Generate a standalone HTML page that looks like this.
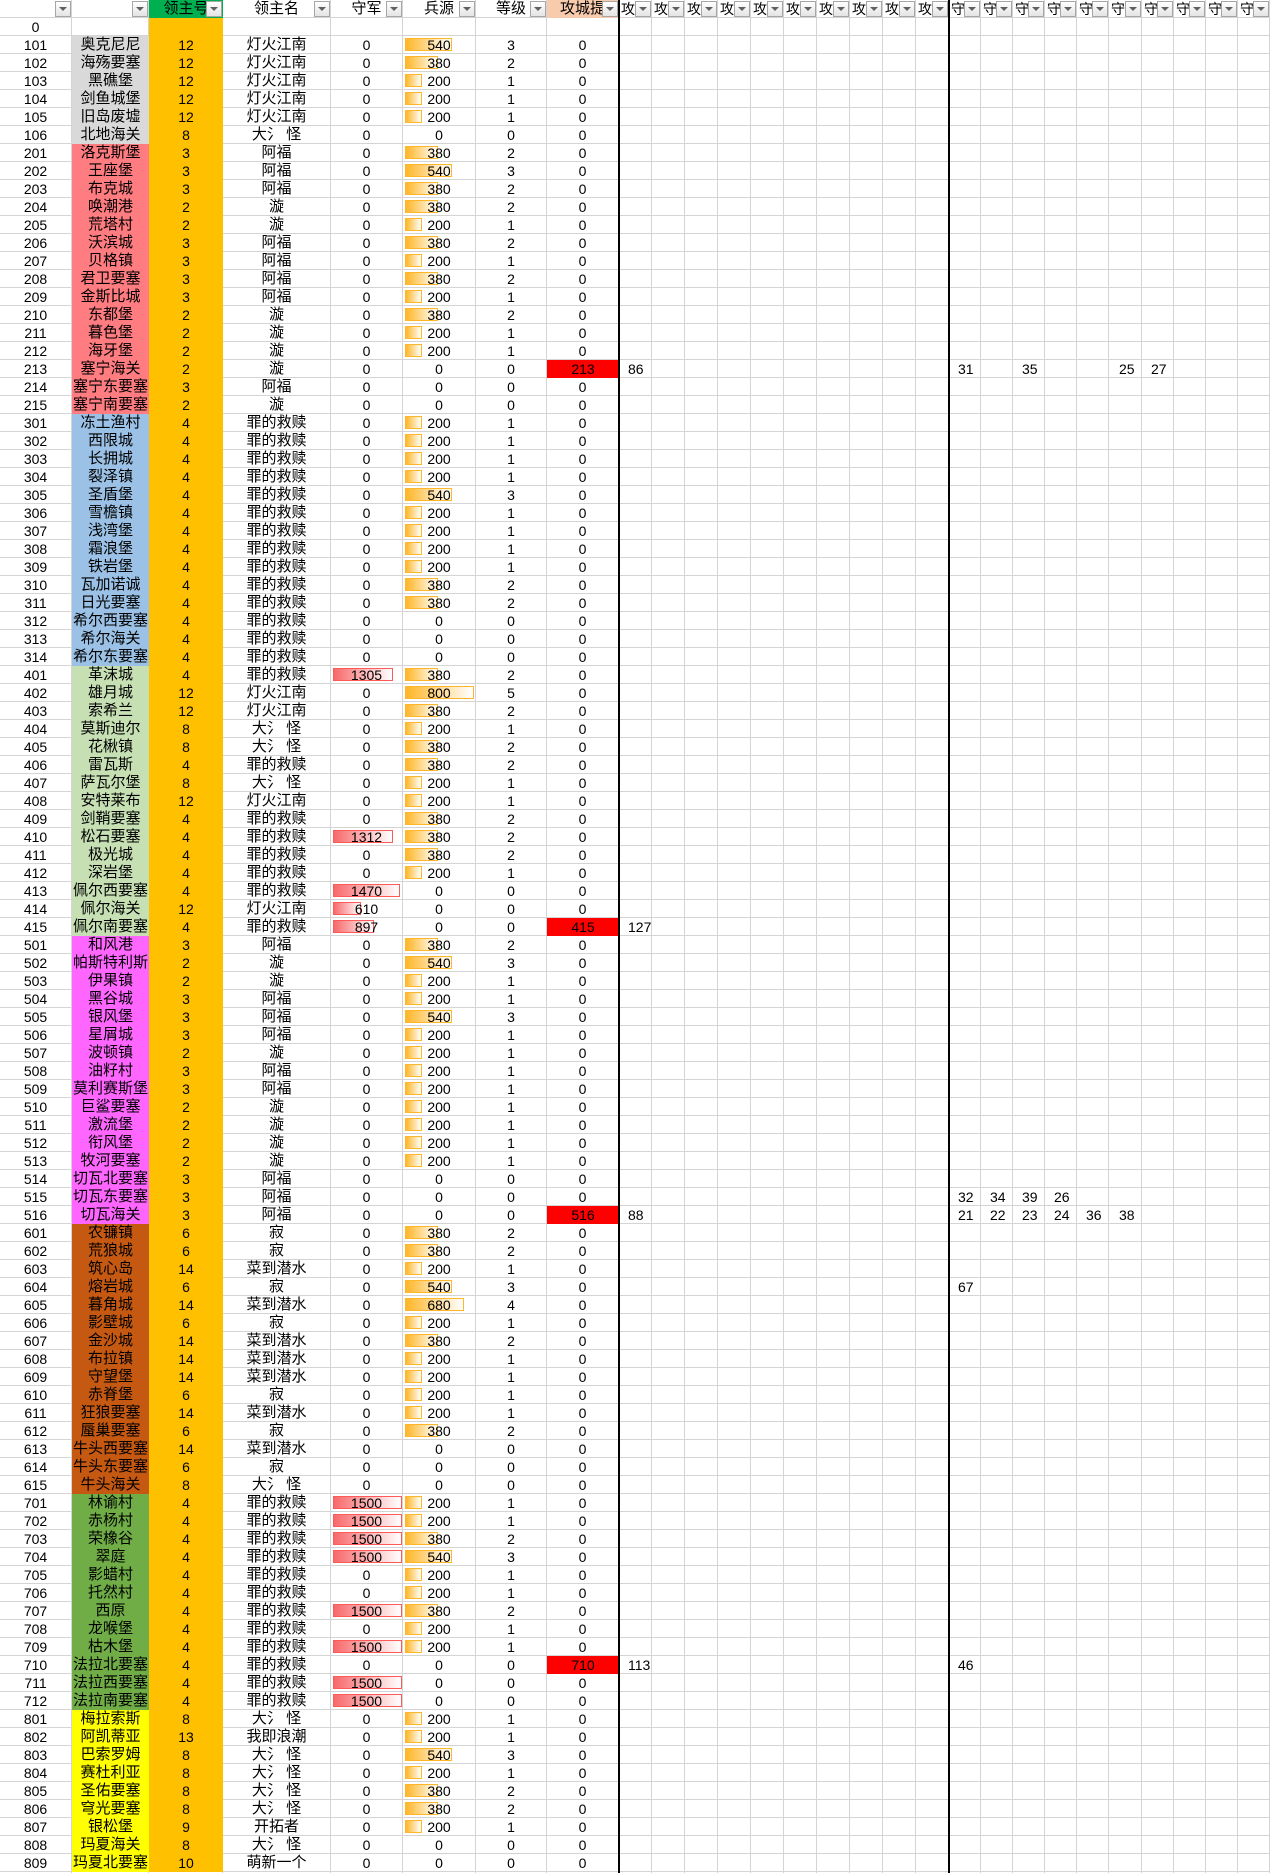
<!DOCTYPE html>
<html><head><meta charset="utf-8"><style>
body{margin:0;width:1270px;height:1873px;overflow:hidden;background:#fff;position:relative;font:14px "Liberation Sans","Noto Sans CJK SC",sans-serif;color:#000}
#g{position:absolute;left:0;top:0;width:1270px;height:1873px;background:repeating-linear-gradient(to bottom,transparent 0 17px,#d4d4d4 17px 18px)}
.v{position:absolute;top:0;height:1873px;width:1px;background:#d4d4d4}
.t{position:absolute;top:0;height:1873px;width:2px;background:#000;z-index:9}
#rows{position:absolute;left:0;top:0;width:1270px;z-index:2}
.r{position:relative;height:18px;width:1270px}
.r>span{position:absolute;top:0;height:18px;line-height:18px;text-align:center;white-space:nowrap;overflow:hidden}
.r>span:nth-child(1){left:0;width:71px}
.r>span:nth-child(2){left:72px;width:77px;font-size:15px}
.r>span:nth-child(3){left:149px;width:74px;background:#ffc000}
.r>span:nth-child(4){left:223px;width:107px;font-size:15px}
.r>span:nth-child(5){left:331px;width:71px}
.r>span:nth-child(6){left:403px;width:72px}
.r>span:nth-child(7){left:476px;width:70px}
.r>span:nth-child(8){left:547px;width:71px}
.r>span.red{background:#ff0000;width:72px}
.k1>span:nth-child(2){background:#d9d9d9}
.k2>span:nth-child(2){background:#ff7c80}
.k3>span:nth-child(2){background:#9bc2e6}
.k4>span:nth-child(2){background:#c6e0b4}
.k5>span:nth-child(2){background:#ff66ff}
.k6>span:nth-child(2){background:#c65911}
.k7>span:nth-child(2){background:#70ad47}
.k8>span:nth-child(2){background:#ffff00}
.o,.h{background:linear-gradient(90deg,var(--c),#fff) 3px 3px/calc(var(--w) - 2px) 11px no-repeat,linear-gradient(var(--b),var(--b)) 2px 2px/var(--w) 13px no-repeat}
.o{--c:#ffb628;--b:#ffb628}
.h{--c:#f8696b;--b:#ff5a5a}
.w17{--w:17px}.w33{--w:33px}.w47{--w:47px}.w59{--w:59px}.w69{--w:69px}.w60{--w:60px}.w67{--w:67px}.w28{--w:28px}.w41{--w:41px}
.r>span.x{text-align:left;width:30px}
.a1{left:628px}
.d1{left:958px}.d2{left:990px}.d3{left:1022px}.d4{left:1054px}.d5{left:1086px}.d6{left:1119px}.d7{left:1151px}
.hd>span{font-size:15px}
.hd>span.gr{background:#00b050}
.hd>span.pe{background:#f8cbad}
.hd>span.hx{text-align:left;width:33px;padding-left:1px;font-size:14px}
.fb{position:absolute;top:1px;width:14px;height:14px;border:1px solid #a6a6a6;background:linear-gradient(#fff,#e4e4e4);z-index:3}
.fb::after{content:"";position:absolute;left:3px;top:5px;border-left:4px solid transparent;border-right:4px solid transparent;border-top:4px solid #606060}
</style></head><body>
<div id="g"></div>
<div class="v" style="left:71px"></div><div class="v" style="left:148px"></div><div class="v" style="left:222px"></div><div class="v" style="left:330px"></div><div class="v" style="left:402px"></div><div class="v" style="left:475px"></div><div class="v" style="left:546px"></div>
<div class="v" style="left:651px"></div><div class="v" style="left:684px"></div><div class="v" style="left:717px"></div><div class="v" style="left:750px"></div><div class="v" style="left:783px"></div><div class="v" style="left:816px"></div><div class="v" style="left:849px"></div><div class="v" style="left:882px"></div><div class="v" style="left:915px"></div>
<div class="v" style="left:980px"></div><div class="v" style="left:1012px"></div><div class="v" style="left:1044px"></div><div class="v" style="left:1076px"></div><div class="v" style="left:1108px"></div><div class="v" style="left:1141px"></div><div class="v" style="left:1173px"></div><div class="v" style="left:1205px"></div><div class="v" style="left:1237px"></div><div class="v" style="left:1269px"></div>
<div class="t" style="left:618px"></div><div class="t" style="left:948px"></div>
<div id="rows">
<div class="r hd"><span></span><span></span><span class="gr">领主号</span><span>领主名</span><span>守军</span><span>兵源</span><span>等级</span><span class="pe">攻城提</span>
<span class="hx" style="left:620px">攻:</span><span class="hx" style="left:653px">攻:</span><span class="hx" style="left:686px">攻:</span><span class="hx" style="left:719px">攻:</span><span class="hx" style="left:752px">攻:</span><span class="hx" style="left:785px">攻:</span><span class="hx" style="left:818px">攻:</span><span class="hx" style="left:851px">攻:</span><span class="hx" style="left:884px">攻:</span><span class="hx" style="left:917px">攻城</span>
<span class="hx" style="left:950px">守:</span><span class="hx" style="left:982px">守:</span><span class="hx" style="left:1014px">守:</span><span class="hx" style="left:1046px">守:</span><span class="hx" style="left:1078px">守:</span><span class="hx" style="left:1110px">守:</span><span class="hx" style="left:1143px">守:</span><span class="hx" style="left:1175px">守:</span><span class="hx" style="left:1207px">守:</span><span class="hx" style="left:1239px">守城</span>
<i class="fb" style="left:55px"></i><i class="fb" style="left:132px"></i><i class="fb" style="left:206px"></i><i class="fb" style="left:314px"></i><i class="fb" style="left:386px"></i><i class="fb" style="left:459px"></i><i class="fb" style="left:530px"></i><i class="fb" style="left:602px"></i>
<i class="fb" style="left:635px"></i><i class="fb" style="left:668px"></i><i class="fb" style="left:701px"></i><i class="fb" style="left:734px"></i><i class="fb" style="left:767px"></i><i class="fb" style="left:800px"></i><i class="fb" style="left:833px"></i><i class="fb" style="left:866px"></i><i class="fb" style="left:899px"></i><i class="fb" style="left:932px"></i>
<i class="fb" style="left:964px"></i><i class="fb" style="left:996px"></i><i class="fb" style="left:1028px"></i><i class="fb" style="left:1060px"></i><i class="fb" style="left:1092px"></i><i class="fb" style="left:1125px"></i><i class="fb" style="left:1157px"></i><i class="fb" style="left:1189px"></i><i class="fb" style="left:1221px"></i><i class="fb" style="left:1253px"></i>
</div>
<div class="r"><span>0</span><span></span><span></span><span></span><span></span><span></span><span></span><span></span></div>
<div class="r k1"><span>101</span><span>奥克尼尼</span><span>12</span><span>灯火江南</span><span>0</span><span class="o w47">540</span><span>3</span><span>0</span></div>
<div class="r k1"><span>102</span><span>海殇要塞</span><span>12</span><span>灯火江南</span><span>0</span><span class="o w33">380</span><span>2</span><span>0</span></div>
<div class="r k1"><span>103</span><span>黑礁堡</span><span>12</span><span>灯火江南</span><span>0</span><span class="o w17">200</span><span>1</span><span>0</span></div>
<div class="r k1"><span>104</span><span>剑鱼城堡</span><span>12</span><span>灯火江南</span><span>0</span><span class="o w17">200</span><span>1</span><span>0</span></div>
<div class="r k1"><span>105</span><span>旧岛废墟</span><span>12</span><span>灯火江南</span><span>0</span><span class="o w17">200</span><span>1</span><span>0</span></div>
<div class="r k1"><span>106</span><span>北地海关</span><span>8</span><span>大氵 怪</span><span>0</span><span>0</span><span>0</span><span>0</span></div>
<div class="r k2"><span>201</span><span>洛克斯堡</span><span>3</span><span>阿福</span><span>0</span><span class="o w33">380</span><span>2</span><span>0</span></div>
<div class="r k2"><span>202</span><span>王座堡</span><span>3</span><span>阿福</span><span>0</span><span class="o w47">540</span><span>3</span><span>0</span></div>
<div class="r k2"><span>203</span><span>布克城</span><span>3</span><span>阿福</span><span>0</span><span class="o w33">380</span><span>2</span><span>0</span></div>
<div class="r k2"><span>204</span><span>唤潮港</span><span>2</span><span>漩</span><span>0</span><span class="o w33">380</span><span>2</span><span>0</span></div>
<div class="r k2"><span>205</span><span>荒塔村</span><span>2</span><span>漩</span><span>0</span><span class="o w17">200</span><span>1</span><span>0</span></div>
<div class="r k2"><span>206</span><span>沃滨城</span><span>3</span><span>阿福</span><span>0</span><span class="o w33">380</span><span>2</span><span>0</span></div>
<div class="r k2"><span>207</span><span>贝格镇</span><span>3</span><span>阿福</span><span>0</span><span class="o w17">200</span><span>1</span><span>0</span></div>
<div class="r k2"><span>208</span><span>君卫要塞</span><span>3</span><span>阿福</span><span>0</span><span class="o w33">380</span><span>2</span><span>0</span></div>
<div class="r k2"><span>209</span><span>金斯比城</span><span>3</span><span>阿福</span><span>0</span><span class="o w17">200</span><span>1</span><span>0</span></div>
<div class="r k2"><span>210</span><span>东都堡</span><span>2</span><span>漩</span><span>0</span><span class="o w33">380</span><span>2</span><span>0</span></div>
<div class="r k2"><span>211</span><span>暮色堡</span><span>2</span><span>漩</span><span>0</span><span class="o w17">200</span><span>1</span><span>0</span></div>
<div class="r k2"><span>212</span><span>海牙堡</span><span>2</span><span>漩</span><span>0</span><span class="o w17">200</span><span>1</span><span>0</span></div>
<div class="r k2"><span>213</span><span>塞宁海关</span><span>2</span><span>漩</span><span>0</span><span>0</span><span>0</span><span class="red">213</span><span class="x a1">86</span><span class="x d1">31</span><span class="x d3">35</span><span class="x d6">25</span><span class="x d7">27</span></div>
<div class="r k2"><span>214</span><span>塞宁东要塞</span><span>3</span><span>阿福</span><span>0</span><span>0</span><span>0</span><span>0</span></div>
<div class="r k2"><span>215</span><span>塞宁南要塞</span><span>2</span><span>漩</span><span>0</span><span>0</span><span>0</span><span>0</span></div>
<div class="r k3"><span>301</span><span>冻土渔村</span><span>4</span><span>罪的救赎</span><span>0</span><span class="o w17">200</span><span>1</span><span>0</span></div>
<div class="r k3"><span>302</span><span>西限城</span><span>4</span><span>罪的救赎</span><span>0</span><span class="o w17">200</span><span>1</span><span>0</span></div>
<div class="r k3"><span>303</span><span>长拥城</span><span>4</span><span>罪的救赎</span><span>0</span><span class="o w17">200</span><span>1</span><span>0</span></div>
<div class="r k3"><span>304</span><span>裂泽镇</span><span>4</span><span>罪的救赎</span><span>0</span><span class="o w17">200</span><span>1</span><span>0</span></div>
<div class="r k3"><span>305</span><span>圣盾堡</span><span>4</span><span>罪的救赎</span><span>0</span><span class="o w47">540</span><span>3</span><span>0</span></div>
<div class="r k3"><span>306</span><span>雪檐镇</span><span>4</span><span>罪的救赎</span><span>0</span><span class="o w17">200</span><span>1</span><span>0</span></div>
<div class="r k3"><span>307</span><span>浅湾堡</span><span>4</span><span>罪的救赎</span><span>0</span><span class="o w17">200</span><span>1</span><span>0</span></div>
<div class="r k3"><span>308</span><span>霜浪堡</span><span>4</span><span>罪的救赎</span><span>0</span><span class="o w17">200</span><span>1</span><span>0</span></div>
<div class="r k3"><span>309</span><span>铁岩堡</span><span>4</span><span>罪的救赎</span><span>0</span><span class="o w17">200</span><span>1</span><span>0</span></div>
<div class="r k3"><span>310</span><span>瓦加诺诚</span><span>4</span><span>罪的救赎</span><span>0</span><span class="o w33">380</span><span>2</span><span>0</span></div>
<div class="r k3"><span>311</span><span>日光要塞</span><span>4</span><span>罪的救赎</span><span>0</span><span class="o w33">380</span><span>2</span><span>0</span></div>
<div class="r k3"><span>312</span><span>希尔西要塞</span><span>4</span><span>罪的救赎</span><span>0</span><span>0</span><span>0</span><span>0</span></div>
<div class="r k3"><span>313</span><span>希尔海关</span><span>4</span><span>罪的救赎</span><span>0</span><span>0</span><span>0</span><span>0</span></div>
<div class="r k3"><span>314</span><span>希尔东要塞</span><span>4</span><span>罪的救赎</span><span>0</span><span>0</span><span>0</span><span>0</span></div>
<div class="r k4"><span>401</span><span>革沫城</span><span>4</span><span>罪的救赎</span><span class="h w60">1305</span><span class="o w33">380</span><span>2</span><span>0</span></div>
<div class="r k4"><span>402</span><span>雄月城</span><span>12</span><span>灯火江南</span><span>0</span><span class="o w69">800</span><span>5</span><span>0</span></div>
<div class="r k4"><span>403</span><span>索希兰</span><span>12</span><span>灯火江南</span><span>0</span><span class="o w33">380</span><span>2</span><span>0</span></div>
<div class="r k4"><span>404</span><span>莫斯迪尔</span><span>8</span><span>大氵 怪</span><span>0</span><span class="o w17">200</span><span>1</span><span>0</span></div>
<div class="r k4"><span>405</span><span>花楸镇</span><span>8</span><span>大氵 怪</span><span>0</span><span class="o w33">380</span><span>2</span><span>0</span></div>
<div class="r k4"><span>406</span><span>雷瓦斯</span><span>4</span><span>罪的救赎</span><span>0</span><span class="o w33">380</span><span>2</span><span>0</span></div>
<div class="r k4"><span>407</span><span>萨瓦尔堡</span><span>8</span><span>大氵 怪</span><span>0</span><span class="o w17">200</span><span>1</span><span>0</span></div>
<div class="r k4"><span>408</span><span>安特莱布</span><span>12</span><span>灯火江南</span><span>0</span><span class="o w17">200</span><span>1</span><span>0</span></div>
<div class="r k4"><span>409</span><span>剑鞘要塞</span><span>4</span><span>罪的救赎</span><span>0</span><span class="o w33">380</span><span>2</span><span>0</span></div>
<div class="r k4"><span>410</span><span>松石要塞</span><span>4</span><span>罪的救赎</span><span class="h w60">1312</span><span class="o w33">380</span><span>2</span><span>0</span></div>
<div class="r k4"><span>411</span><span>极光城</span><span>4</span><span>罪的救赎</span><span>0</span><span class="o w33">380</span><span>2</span><span>0</span></div>
<div class="r k4"><span>412</span><span>深岩堡</span><span>4</span><span>罪的救赎</span><span>0</span><span class="o w17">200</span><span>1</span><span>0</span></div>
<div class="r k4"><span>413</span><span>佩尔西要塞</span><span>4</span><span>罪的救赎</span><span class="h w67">1470</span><span>0</span><span>0</span><span>0</span></div>
<div class="r k4"><span>414</span><span>佩尔海关</span><span>12</span><span>灯火江南</span><span class="h w28">610</span><span>0</span><span>0</span><span>0</span></div>
<div class="r k4"><span>415</span><span>佩尔南要塞</span><span>4</span><span>罪的救赎</span><span class="h w41">897</span><span>0</span><span>0</span><span class="red">415</span><span class="x a1">127</span></div>
<div class="r k5"><span>501</span><span>和风港</span><span>3</span><span>阿福</span><span>0</span><span class="o w33">380</span><span>2</span><span>0</span></div>
<div class="r k5"><span>502</span><span>帕斯特利斯</span><span>2</span><span>漩</span><span>0</span><span class="o w47">540</span><span>3</span><span>0</span></div>
<div class="r k5"><span>503</span><span>伊果镇</span><span>2</span><span>漩</span><span>0</span><span class="o w17">200</span><span>1</span><span>0</span></div>
<div class="r k5"><span>504</span><span>黑谷城</span><span>3</span><span>阿福</span><span>0</span><span class="o w17">200</span><span>1</span><span>0</span></div>
<div class="r k5"><span>505</span><span>银风堡</span><span>3</span><span>阿福</span><span>0</span><span class="o w47">540</span><span>3</span><span>0</span></div>
<div class="r k5"><span>506</span><span>星屑城</span><span>3</span><span>阿福</span><span>0</span><span class="o w17">200</span><span>1</span><span>0</span></div>
<div class="r k5"><span>507</span><span>波顿镇</span><span>2</span><span>漩</span><span>0</span><span class="o w17">200</span><span>1</span><span>0</span></div>
<div class="r k5"><span>508</span><span>油籽村</span><span>3</span><span>阿福</span><span>0</span><span class="o w17">200</span><span>1</span><span>0</span></div>
<div class="r k5"><span>509</span><span>莫利赛斯堡</span><span>3</span><span>阿福</span><span>0</span><span class="o w17">200</span><span>1</span><span>0</span></div>
<div class="r k5"><span>510</span><span>巨鲨要塞</span><span>2</span><span>漩</span><span>0</span><span class="o w17">200</span><span>1</span><span>0</span></div>
<div class="r k5"><span>511</span><span>激流堡</span><span>2</span><span>漩</span><span>0</span><span class="o w17">200</span><span>1</span><span>0</span></div>
<div class="r k5"><span>512</span><span>衔风堡</span><span>2</span><span>漩</span><span>0</span><span class="o w17">200</span><span>1</span><span>0</span></div>
<div class="r k5"><span>513</span><span>牧河要塞</span><span>2</span><span>漩</span><span>0</span><span class="o w17">200</span><span>1</span><span>0</span></div>
<div class="r k5"><span>514</span><span>切瓦北要塞</span><span>3</span><span>阿福</span><span>0</span><span>0</span><span>0</span><span>0</span></div>
<div class="r k5"><span>515</span><span>切瓦东要塞</span><span>3</span><span>阿福</span><span>0</span><span>0</span><span>0</span><span>0</span><span class="x d1">32</span><span class="x d2">34</span><span class="x d3">39</span><span class="x d4">26</span></div>
<div class="r k5"><span>516</span><span>切瓦海关</span><span>3</span><span>阿福</span><span>0</span><span>0</span><span>0</span><span class="red">516</span><span class="x a1">88</span><span class="x d1">21</span><span class="x d2">22</span><span class="x d3">23</span><span class="x d4">24</span><span class="x d5">36</span><span class="x d6">38</span></div>
<div class="r k6"><span>601</span><span>农镰镇</span><span>6</span><span>寂</span><span>0</span><span class="o w33">380</span><span>2</span><span>0</span></div>
<div class="r k6"><span>602</span><span>荒狼城</span><span>6</span><span>寂</span><span>0</span><span class="o w33">380</span><span>2</span><span>0</span></div>
<div class="r k6"><span>603</span><span>筑心岛</span><span>14</span><span>菜到潜水</span><span>0</span><span class="o w17">200</span><span>1</span><span>0</span></div>
<div class="r k6"><span>604</span><span>熔岩城</span><span>6</span><span>寂</span><span>0</span><span class="o w47">540</span><span>3</span><span>0</span><span class="x d1">67</span></div>
<div class="r k6"><span>605</span><span>暮角城</span><span>14</span><span>菜到潜水</span><span>0</span><span class="o w59">680</span><span>4</span><span>0</span></div>
<div class="r k6"><span>606</span><span>影壁城</span><span>6</span><span>寂</span><span>0</span><span class="o w17">200</span><span>1</span><span>0</span></div>
<div class="r k6"><span>607</span><span>金沙城</span><span>14</span><span>菜到潜水</span><span>0</span><span class="o w33">380</span><span>2</span><span>0</span></div>
<div class="r k6"><span>608</span><span>布拉镇</span><span>14</span><span>菜到潜水</span><span>0</span><span class="o w17">200</span><span>1</span><span>0</span></div>
<div class="r k6"><span>609</span><span>守望堡</span><span>14</span><span>菜到潜水</span><span>0</span><span class="o w17">200</span><span>1</span><span>0</span></div>
<div class="r k6"><span>610</span><span>赤脊堡</span><span>6</span><span>寂</span><span>0</span><span class="o w17">200</span><span>1</span><span>0</span></div>
<div class="r k6"><span>611</span><span>狂狼要塞</span><span>14</span><span>菜到潜水</span><span>0</span><span class="o w17">200</span><span>1</span><span>0</span></div>
<div class="r k6"><span>612</span><span>蜃巢要塞</span><span>6</span><span>寂</span><span>0</span><span class="o w33">380</span><span>2</span><span>0</span></div>
<div class="r k6"><span>613</span><span>牛头西要塞</span><span>14</span><span>菜到潜水</span><span>0</span><span>0</span><span>0</span><span>0</span></div>
<div class="r k6"><span>614</span><span>牛头东要塞</span><span>6</span><span>寂</span><span>0</span><span>0</span><span>0</span><span>0</span></div>
<div class="r k6"><span>615</span><span>牛头海关</span><span>8</span><span>大氵 怪</span><span>0</span><span>0</span><span>0</span><span>0</span></div>
<div class="r k7"><span>701</span><span>林谕村</span><span>4</span><span>罪的救赎</span><span class="h w69">1500</span><span class="o w17">200</span><span>1</span><span>0</span></div>
<div class="r k7"><span>702</span><span>赤杨村</span><span>4</span><span>罪的救赎</span><span class="h w69">1500</span><span class="o w17">200</span><span>1</span><span>0</span></div>
<div class="r k7"><span>703</span><span>荣橡谷</span><span>4</span><span>罪的救赎</span><span class="h w69">1500</span><span class="o w33">380</span><span>2</span><span>0</span></div>
<div class="r k7"><span>704</span><span>翠庭</span><span>4</span><span>罪的救赎</span><span class="h w69">1500</span><span class="o w47">540</span><span>3</span><span>0</span></div>
<div class="r k7"><span>705</span><span>影蜡村</span><span>4</span><span>罪的救赎</span><span>0</span><span class="o w17">200</span><span>1</span><span>0</span></div>
<div class="r k7"><span>706</span><span>托然村</span><span>4</span><span>罪的救赎</span><span>0</span><span class="o w17">200</span><span>1</span><span>0</span></div>
<div class="r k7"><span>707</span><span>西原</span><span>4</span><span>罪的救赎</span><span class="h w69">1500</span><span class="o w33">380</span><span>2</span><span>0</span></div>
<div class="r k7"><span>708</span><span>龙喉堡</span><span>4</span><span>罪的救赎</span><span>0</span><span class="o w17">200</span><span>1</span><span>0</span></div>
<div class="r k7"><span>709</span><span>枯木堡</span><span>4</span><span>罪的救赎</span><span class="h w69">1500</span><span class="o w17">200</span><span>1</span><span>0</span></div>
<div class="r k7"><span>710</span><span>法拉北要塞</span><span>4</span><span>罪的救赎</span><span>0</span><span>0</span><span>0</span><span class="red">710</span><span class="x a1">113</span><span class="x d1">46</span></div>
<div class="r k7"><span>711</span><span>法拉西要塞</span><span>4</span><span>罪的救赎</span><span class="h w69">1500</span><span>0</span><span>0</span><span>0</span></div>
<div class="r k7"><span>712</span><span>法拉南要塞</span><span>4</span><span>罪的救赎</span><span class="h w69">1500</span><span>0</span><span>0</span><span>0</span></div>
<div class="r k8"><span>801</span><span>梅拉索斯</span><span>8</span><span>大氵 怪</span><span>0</span><span class="o w17">200</span><span>1</span><span>0</span></div>
<div class="r k8"><span>802</span><span>阿凯蒂亚</span><span>13</span><span>我即浪潮</span><span>0</span><span class="o w17">200</span><span>1</span><span>0</span></div>
<div class="r k8"><span>803</span><span>巴索罗姆</span><span>8</span><span>大氵 怪</span><span>0</span><span class="o w47">540</span><span>3</span><span>0</span></div>
<div class="r k8"><span>804</span><span>赛杜利亚</span><span>8</span><span>大氵 怪</span><span>0</span><span class="o w17">200</span><span>1</span><span>0</span></div>
<div class="r k8"><span>805</span><span>圣佑要塞</span><span>8</span><span>大氵 怪</span><span>0</span><span class="o w33">380</span><span>2</span><span>0</span></div>
<div class="r k8"><span>806</span><span>穹光要塞</span><span>8</span><span>大氵 怪</span><span>0</span><span class="o w33">380</span><span>2</span><span>0</span></div>
<div class="r k8"><span>807</span><span>银松堡</span><span>9</span><span>开拓者</span><span>0</span><span class="o w17">200</span><span>1</span><span>0</span></div>
<div class="r k8"><span>808</span><span>玛夏海关</span><span>8</span><span>大氵 怪</span><span>0</span><span>0</span><span>0</span><span>0</span></div>
<div class="r k8"><span>809</span><span>玛夏北要塞</span><span>10</span><span>萌新一个</span><span>0</span><span>0</span><span>0</span><span>0</span></div>
</div>
</body></html>
